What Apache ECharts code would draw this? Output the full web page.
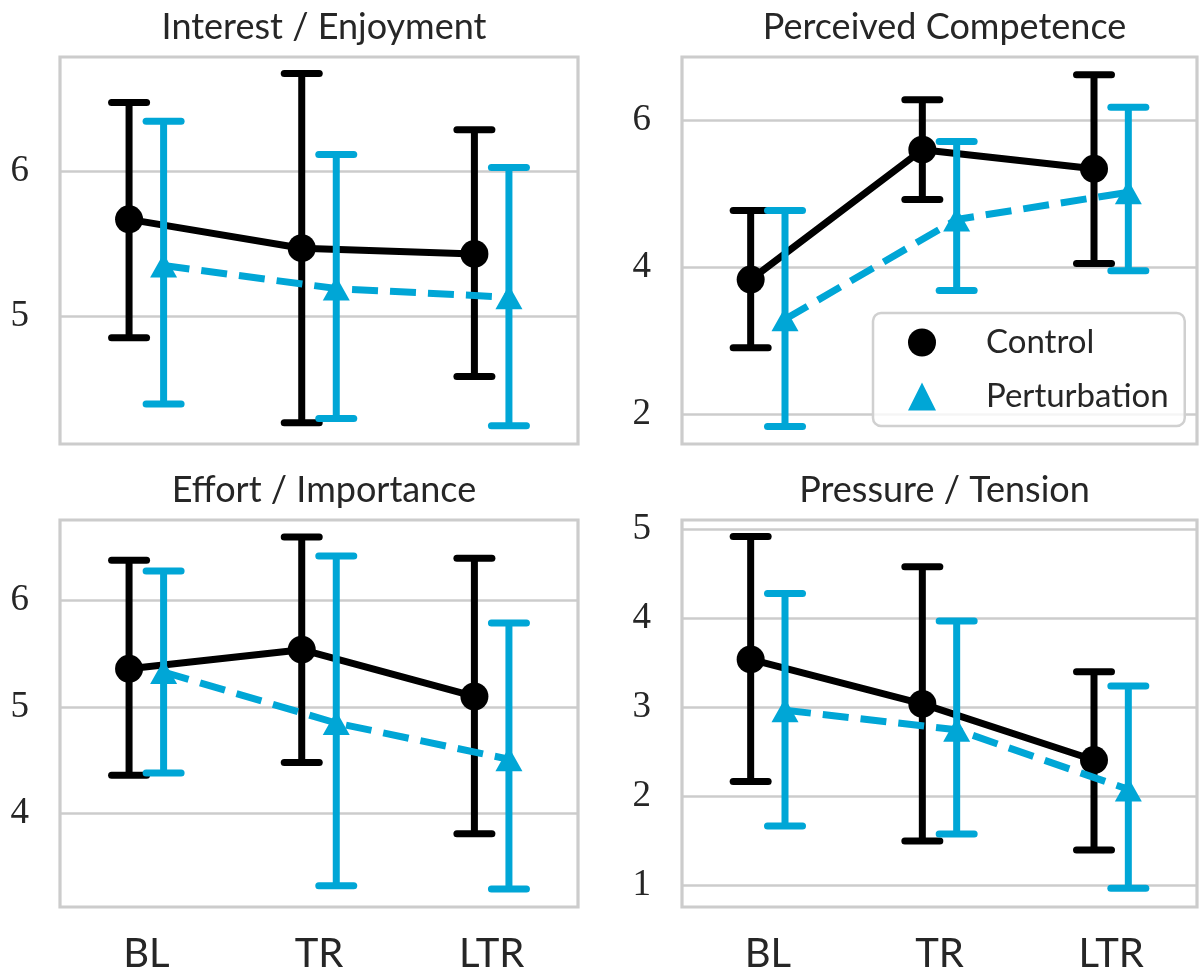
<!DOCTYPE html>
<html><head><meta charset="utf-8">
<script src="https://cdn.jsdelivr.net/npm/echarts@6/dist/echarts.min.js"></script>
<style>html,body{margin:0;padding:0;background:#fff}#chart{width:1200px;height:971px}</style>
</head><body><div id="chart"></div>
<script>
// ---------------- data ----------------
const categories = ['BL', 'TR', 'LTR'];
const panelTitles = ['Interest / Enjoyment', 'Perceived Competence', 'Effort / Importance', 'Pressure / Tension'];
const seriesNames = ['Control', 'Perturbation'];

// Interest / Enjoyment
const ieControlMean = [5.67, 5.47, 5.43];
const ieControlLow  = [4.85, 4.26, 4.58];
const ieControlHigh = [6.48, 6.68, 6.29];
const iePertMean    = [5.35, 5.19, 5.13];
const iePertLow     = [4.39, 4.29, 4.24];
const iePertHigh    = [6.35, 6.12, 6.03];

// Perceived Competence
const pcControlMean = [3.83, 5.60, 5.34];
const pcControlLow  = [2.90, 4.92, 4.05];
const pcControlHigh = [4.77, 6.28, 6.62];
const pcPertMean    = [3.29, 4.65, 5.02];
const pcPertLow     = [1.83, 3.68, 3.95];
const pcPertHigh    = [4.77, 5.71, 6.18];

// Effort / Importance
const eiControlMean = [5.36, 5.54, 5.10];
const eiControlLow  = [4.36, 4.48, 3.81];
const eiControlHigh = [6.38, 6.60, 6.40];
const eiPertMean    = [5.33, 4.85, 4.51];
const eiPertLow     = [4.38, 3.32, 3.29];
const eiPertHigh    = [6.28, 6.42, 5.79];

// Pressure / Tension
const ptControlMean = [3.54, 3.04, 2.41];
const ptControlLow  = [2.17, 1.50, 1.40];
const ptControlHigh = [4.92, 4.58, 3.40];
const ptPertMean    = [2.97, 2.75, 2.08];
const ptPertLow     = [1.67, 1.58, 0.97];
const ptPertHigh    = [4.28, 3.97, 3.24];

// y-axis tick labels and limits per panel
const ieTicks = [5, 6];
const pcTicks = [2, 4, 6];
const eiTicks = [4, 5, 6];
const ptTicks = [1, 2, 3, 4, 5];
const ieRange = [4.113, 6.795];
const pcRange = [1.59, 6.863];
const eiRange = [3.121, 6.759];
const ptRange = [0.76, 5.105];

// ---------------- build ----------------
const BLUE = '#00a6d6';
const GRIDC = '#cccccc';
const TEXTC = '#262626';
const DODGE = 0.1;

const panels = [
  {title: panelTitles[0], ticks: ieTicks, range: ieRange,
   c: [ieControlMean, ieControlLow, ieControlHigh], p: [iePertMean, iePertLow, iePertHigh]},
  {title: panelTitles[1], ticks: pcTicks, range: pcRange,
   c: [pcControlMean, pcControlLow, pcControlHigh], p: [pcPertMean, pcPertLow, pcPertHigh]},
  {title: panelTitles[2], ticks: eiTicks, range: eiRange,
   c: [eiControlMean, eiControlLow, eiControlHigh], p: [eiPertMean, eiPertLow, eiPertHigh]},
  {title: panelTitles[3], ticks: ptTicks, range: ptRange,
   c: [ptControlMean, ptControlLow, ptControlHigh], p: [ptPertMean, ptPertLow, ptPertHigh]}
];

const gridRects = [
  {left: 60, top: 57, width: 518, height: 387},
  {left: 682, top: 57, width: 515, height: 387},
  {left: 60, top: 520, width: 518, height: 387},
  {left: 682, top: 520, width: 515, height: 387}
];

const grids = [], xAxes = [], yAxes = [], series = [], titles = [];

function errorBars(name, idx, low, high, offset, color, z) {
  return {
    type: 'custom', name: name, xAxisIndex: idx, yAxisIndex: idx, z: z, silent: true,
    data: categories.map((c, i) => [i + offset, low[i], high[i]]),
    encode: {x: 0, y: [1, 2]},
    renderItem: function (params, api) {
      const x = api.value(0);
      const lo = api.coord([x, api.value(1)]);
      const hi = api.coord([x, api.value(2)]);
      const half = 17.5;
      const st = {stroke: color, lineWidth: 7, lineCap: 'round'};
      return {type: 'group', children: [
        {type: 'line', shape: {x1: lo[0], y1: lo[1], x2: hi[0], y2: hi[1]}, style: {stroke: color, lineWidth: 7}},
        {type: 'line', shape: {x1: lo[0] - half, y1: lo[1], x2: lo[0] + half, y2: lo[1]}, style: st},
        {type: 'line', shape: {x1: hi[0] - half, y1: hi[1], x2: hi[0] + half, y2: hi[1]}, style: st}
      ]};
    }
  };
}

panels.forEach((pn, k) => {
  const r = gridRects[k];
  grids.push(Object.assign({show: true, borderColor: GRIDC, borderWidth: 3.2, backgroundColor: '#fff',
    containLabel: false, outerBoundsMode: 'none'}, r));
  titles.push({text: pn.title, left: r.left + r.width / 2, textAlign: 'center', top: r.top - 53,
    textStyle: {fontFamily: 'Lato', fontWeight: 'normal', fontSize: 36, color: TEXTC}});
  xAxes.push({type: 'value', gridIndex: k, min: -0.5, max: 2.5,
    axisLine: {show: false}, axisTick: {show: false}, splitLine: {show: false},
    axisLabel: {show: k >= 2, customValues: [0, 1, 2], margin: 27,
      formatter: v => categories[Math.round(v)] || '',
      fontFamily: 'Lato', fontSize: 40, color: TEXTC}});
  yAxes.push({type: 'value', gridIndex: k, min: pn.range[0], max: pn.range[1],
    axisLine: {show: false}, axisTick: {show: false, customValues: pn.ticks},
    splitLine: {show: true, lineStyle: {color: GRIDC, width: 2.5}},
    axisLabel: {customValues: pn.ticks, margin: 31, fontFamily: 'Liberation Serif', fontSize: 37, color: TEXTC,
      formatter: v => String(v)}});
  series.push(errorBars('Control err', k, pn.c[1], pn.c[2], -DODGE, '#000', 2));
  series.push({type: 'line', name: seriesNames[0], xAxisIndex: k, yAxisIndex: k, z: 3,
    data: categories.map((c, i) => [i - DODGE, pn.c[0][i]]),
    symbol: 'circle', symbolSize: 28, itemStyle: {color: '#000'},
    lineStyle: {color: '#000', width: 7}, emphasis: {disabled: true}, animation: false});
  series.push(errorBars('Perturbation err', k, pn.p[1], pn.p[2], DODGE, BLUE, 4));
  series.push({type: 'line', name: seriesNames[1], xAxisIndex: k, yAxisIndex: k, z: 5,
    data: categories.map((c, i) => [i + DODGE, pn.p[0][i]]),
    symbol: 'triangle', symbolSize: [27, 24], itemStyle: {color: BLUE},
    lineStyle: {color: BLUE, width: 7, type: [26, 12]}, emphasis: {disabled: true}, animation: false});
});

const option = {
  animation: false,
  backgroundColor: '#fff',
  title: titles,
  grid: grids,
  xAxis: xAxes,
  yAxis: yAxes,
  legend: {
    left: 873, top: 313, orient: 'vertical',
    data: [
      {name: seriesNames[0], icon: 'circle', itemStyle: {color: '#000'}},
      {name: seriesNames[1], icon: 'triangle', itemStyle: {color: BLUE}}
    ],
    itemWidth: 28, itemHeight: 28, itemGap: 21,
    padding: [13, 16, 13, 35],
    backgroundColor: 'rgba(255,255,255,0.8)', borderColor: '#d0d0d0', borderWidth: 2.5, borderRadius: 8,
    textStyle: {fontFamily: 'Lato', fontSize: 33, color: TEXTC, padding: [0, 0, 0, 45]},
    selectedMode: false, z: 20
  },
  series: series
};

const chart = echarts.init(document.getElementById('chart'), null, {renderer: 'canvas'});
chart.setOption(option);
</script>
</body></html>
